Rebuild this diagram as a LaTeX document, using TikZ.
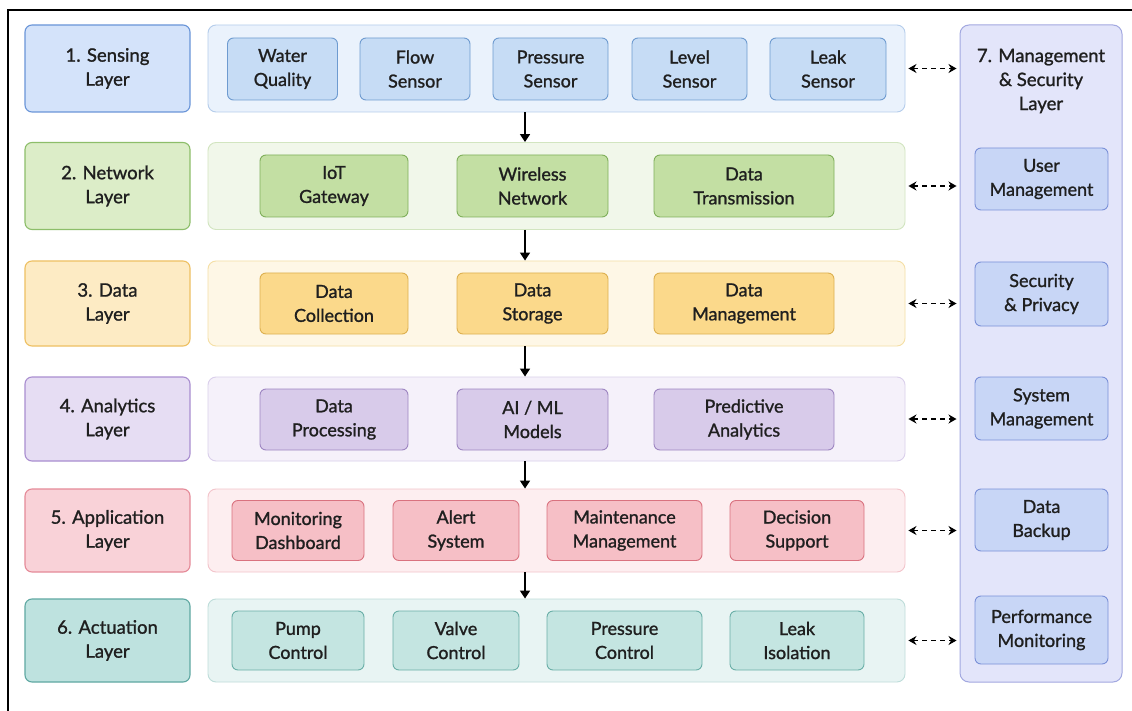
\documentclass[tikz,border=0pt]{standalone}
\usepackage{fontspec}
\setmainfont{Lato}[FakeBold=1.2]
\usetikzlibrary{arrows.meta}
\definecolor{txt}{HTML}{1F1F1F}
% sensing
\definecolor{sLf}{HTML}{D4E3FA}\definecolor{sLd}{HTML}{6A95D8}
\definecolor{sCf}{HTML}{EAF2FC}\definecolor{sCd}{HTML}{B5CDEB}
\definecolor{sIf}{HTML}{C6DCF5}\definecolor{sId}{HTML}{6E9BD0}
% network
\definecolor{nLf}{HTML}{DCEDC8}\definecolor{nLd}{HTML}{8DBE6A}
\definecolor{nCf}{HTML}{F1F7EA}\definecolor{nCd}{HTML}{D2E5C0}
\definecolor{nIf}{HTML}{C3DFA3}\definecolor{nId}{HTML}{7FAF5A}
% data
\definecolor{dLf}{HTML}{FDEBC4}\definecolor{dLd}{HTML}{EEC062}
\definecolor{dCf}{HTML}{FEF7E6}\definecolor{dCd}{HTML}{F5DFA5}
\definecolor{dIf}{HTML}{FBD98B}\definecolor{dId}{HTML}{DDB050}
% analytics
\definecolor{aLf}{HTML}{E6DDF3}\definecolor{aLd}{HTML}{A98ED0}
\definecolor{aCf}{HTML}{F5F1FA}\definecolor{aCd}{HTML}{DACFEB}
\definecolor{aIf}{HTML}{D8CBEA}\definecolor{aId}{HTML}{9E86C2}
% application
\definecolor{pLf}{HTML}{F9D2D8}\definecolor{pLd}{HTML}{E58A98}
\definecolor{pCf}{HTML}{FDEEF0}\definecolor{pCd}{HTML}{F3C4CB}
\definecolor{pIf}{HTML}{F6BFC6}\definecolor{pId}{HTML}{D9727F}
% actuation
\definecolor{tLf}{HTML}{BEE2DF}\definecolor{tLd}{HTML}{5FA8A2}
\definecolor{tCf}{HTML}{E8F4F3}\definecolor{tCd}{HTML}{BEDDDA}
\definecolor{tIf}{HTML}{C4E5E1}\definecolor{tId}{HTML}{6AAFA8}
% management
\definecolor{mCf}{HTML}{E3E5FA}\definecolor{mCd}{HTML}{A2A8E0}
\definecolor{mIf}{HTML}{C8D6F6}\definecolor{mId}{HTML}{7A90D8}
\begin{document}
\begin{tikzpicture}[x=1pt,y=-1pt,
  every node/.style={font=\fontsize{18}{24}\selectfont, text=txt, align=center, inner sep=0pt},
  lbl/.style={draw, line width=1.1pt, rounded corners=7pt, minimum width=165pt, font=\fontsize{18.5}{24}\selectfont},
  cont/.style={draw, line width=0.9pt, rounded corners=8pt, minimum width=697pt},
  box/.style={draw, line width=0.9pt, rounded corners=6pt},
  flow/.style={line width=1.5pt, -{Triangle[length=8pt,width=10pt]}},
  dar/.style={line width=1.5pt, dash pattern=on 5pt off 4pt, {Stealth[length=8pt,width=9pt]}-{Stealth[length=8pt,width=9pt]}, shorten <=3pt, shorten >=3pt}
]
\useasboundingbox (0,0) rectangle (1132,711);
\fill[white] (0,0) rectangle (1132,711);
\draw[line width=2pt] (1132,10) -- (8,10) -- (8,711);

% right column
\node[draw=mCd, fill=mCf, line width=1pt, rounded corners=9pt, minimum width=162pt, minimum height=657pt] (m) at (1041,353.5) {};
\node[font=\fontsize{18.5}{24}\selectfont] (mt) at (1041,81) {7. Management\\ \& Security\\ Layer};
\node[box, draw=mId, fill=mIf, minimum width=133pt, minimum height=62pt] (m1) at (1041.5,179) {User\\ Management};
\node[box, draw=mId, fill=mIf, minimum width=133pt, minimum height=64pt] (m2) at (1041.5,294) {Security\\ \& Privacy};
\node[box, draw=mId, fill=mIf, minimum width=133pt, minimum height=63pt] (m3) at (1041.5,408.5) {System\\ Management};
\node[box, draw=mId, fill=mIf, minimum width=133pt, minimum height=62pt] (m4) at (1041.5,520) {Data\\ Backup};
\node[box, draw=mId, fill=mIf, minimum width=133pt, minimum height=68pt] (m5) at (1041.5,630) {Performance\\ Monitoring};

% row 1
\node[lbl, draw=sLd, fill=sLf, minimum height=87pt] (l1) at (107.5,68.5) {1. Sensing\\ Layer};
\node[cont, draw=sCd, fill=sCf, minimum height=87pt] (c1) at (556.5,68.5) {};
\node[box, draw=sId, fill=sIf, minimum width=110pt, minimum height=62pt] (s1) at (282.5,69) {Water\\ Quality};
\node[box, draw=sId, fill=sIf, minimum width=110pt, minimum height=62pt] (s2) at (415,69) {Flow\\ Sensor};
\node[box, draw=sId, fill=sIf, minimum width=115pt, minimum height=62pt] (s3) at (550.5,69) {Pressure\\ Sensor};
\node[box, draw=sId, fill=sIf, minimum width=115pt, minimum height=62pt] (s4) at (689.5,69) {Level\\ Sensor};
\node[box, draw=sId, fill=sIf, minimum width=116pt, minimum height=62pt] (s5) at (828,69) {Leak\\ Sensor};

% row 2
\node[lbl, draw=nLd, fill=nLf, minimum height=87pt] (l2) at (107.5,186) {2. Network\\ Layer};
\node[cont, draw=nCd, fill=nCf, minimum height=87pt] (c2) at (556.5,186) {};
\node[box, draw=nId, fill=nIf, minimum width=148pt, minimum height=62pt] (n1) at (334,186) {IoT\\ Gateway};
\node[box, draw=nId, fill=nIf, minimum width=151pt, minimum height=62pt] (n2) at (532.5,186) {Wireless\\ Network};
\node[box, draw=nId, fill=nIf, minimum width=180pt, minimum height=62pt] (n3) at (744,186) {Data\\ Transmission};

% row 3
\node[lbl, draw=dLd, fill=dLf, minimum height=85pt] (l3) at (107.5,303.5) {3. Data\\ Layer};
\node[cont, draw=dCd, fill=dCf, minimum height=85pt] (c3) at (556.5,303.5) {};
\node[box, draw=dId, fill=dIf, minimum width=148pt, minimum height=61pt] (d1) at (334,303.5) {Data\\ Collection};
\node[box, draw=dId, fill=dIf, minimum width=151pt, minimum height=61pt] (d2) at (532.5,303.5) {Data\\ Storage};
\node[box, draw=dId, fill=dIf, minimum width=180pt, minimum height=61pt] (d3) at (744,303.5) {Data\\ Management};

% row 4
\node[lbl, draw=aLd, fill=aLf, minimum height=84pt] (l4) at (107.5,419) {4. Analytics\\ Layer};
\node[cont, draw=aCd, fill=aCf, minimum height=84pt] (c4) at (556.5,419) {};
\node[box, draw=aId, fill=aIf, minimum width=148pt, minimum height=61pt] (a1) at (334,419.5) {Data\\ Processing};
\node[box, draw=aId, fill=aIf, minimum width=151pt, minimum height=61pt] (a2) at (532.5,419.5) {AI / ML\\ Models};
\node[box, draw=aId, fill=aIf, minimum width=180pt, minimum height=61pt] (a3) at (744,419.5) {Predictive\\ Analytics};

% row 5
\node[lbl, draw=pLd, fill=pLf, minimum height=83pt] (l5) at (107.5,530.5) {5. Application\\ Layer};
\node[cont, draw=pCd, fill=pCf, minimum height=83pt] (c5) at (556.5,530.5) {};
\node[box, draw=pId, fill=pIf, minimum width=132pt, minimum height=60pt] (p1) at (298,530.5) {Monitoring\\ Dashboard};
\node[box, draw=pId, fill=pIf, minimum width=126pt, minimum height=60pt] (p2) at (456,530.5) {Alert\\ System};
\node[box, draw=pId, fill=pIf, minimum width=155pt, minimum height=60pt] (p3) at (624.5,530.5) {Maintenance\\ Management};
\node[box, draw=pId, fill=pIf, minimum width=134pt, minimum height=60pt] (p4) at (797,530.5) {Decision\\ Support};

% row 6
\node[lbl, draw=tLd, fill=tLf, minimum height=83pt] (l6) at (107.5,640.5) {6. Actuation\\ Layer};
\node[cont, draw=tCd, fill=tCf, minimum height=83pt] (c6) at (556.5,640.5) {};
\node[box, draw=tId, fill=tIf, minimum width=132pt, minimum height=59pt] (t1) at (298,640.5) {Pump\\ Control};
\node[box, draw=tId, fill=tIf, minimum width=126pt, minimum height=59pt] (t2) at (456,640.5) {Valve\\ Control};
\node[box, draw=tId, fill=tIf, minimum width=155pt, minimum height=59pt] (t3) at (624.5,640.5) {Pressure\\ Control};
\node[box, draw=tId, fill=tIf, minimum width=134pt, minimum height=59pt] (t4) at (797,640.5) {Leak\\ Isolation};

% vertical flow arrows
\foreach \a/\b in {c1/c2,c2/c3,c3/c4,c4/c5,c5/c6}
  \draw[flow] ([xshift=-31.5pt]\a.south) -- ([xshift=-31.5pt]\b.north);

% dashed links to management column
\foreach \c in {c1,c2,c3,c4,c5,c6}
  \draw[dar] (\c.east) -- (\c.east -| m.west);
\end{tikzpicture}
\end{document}
